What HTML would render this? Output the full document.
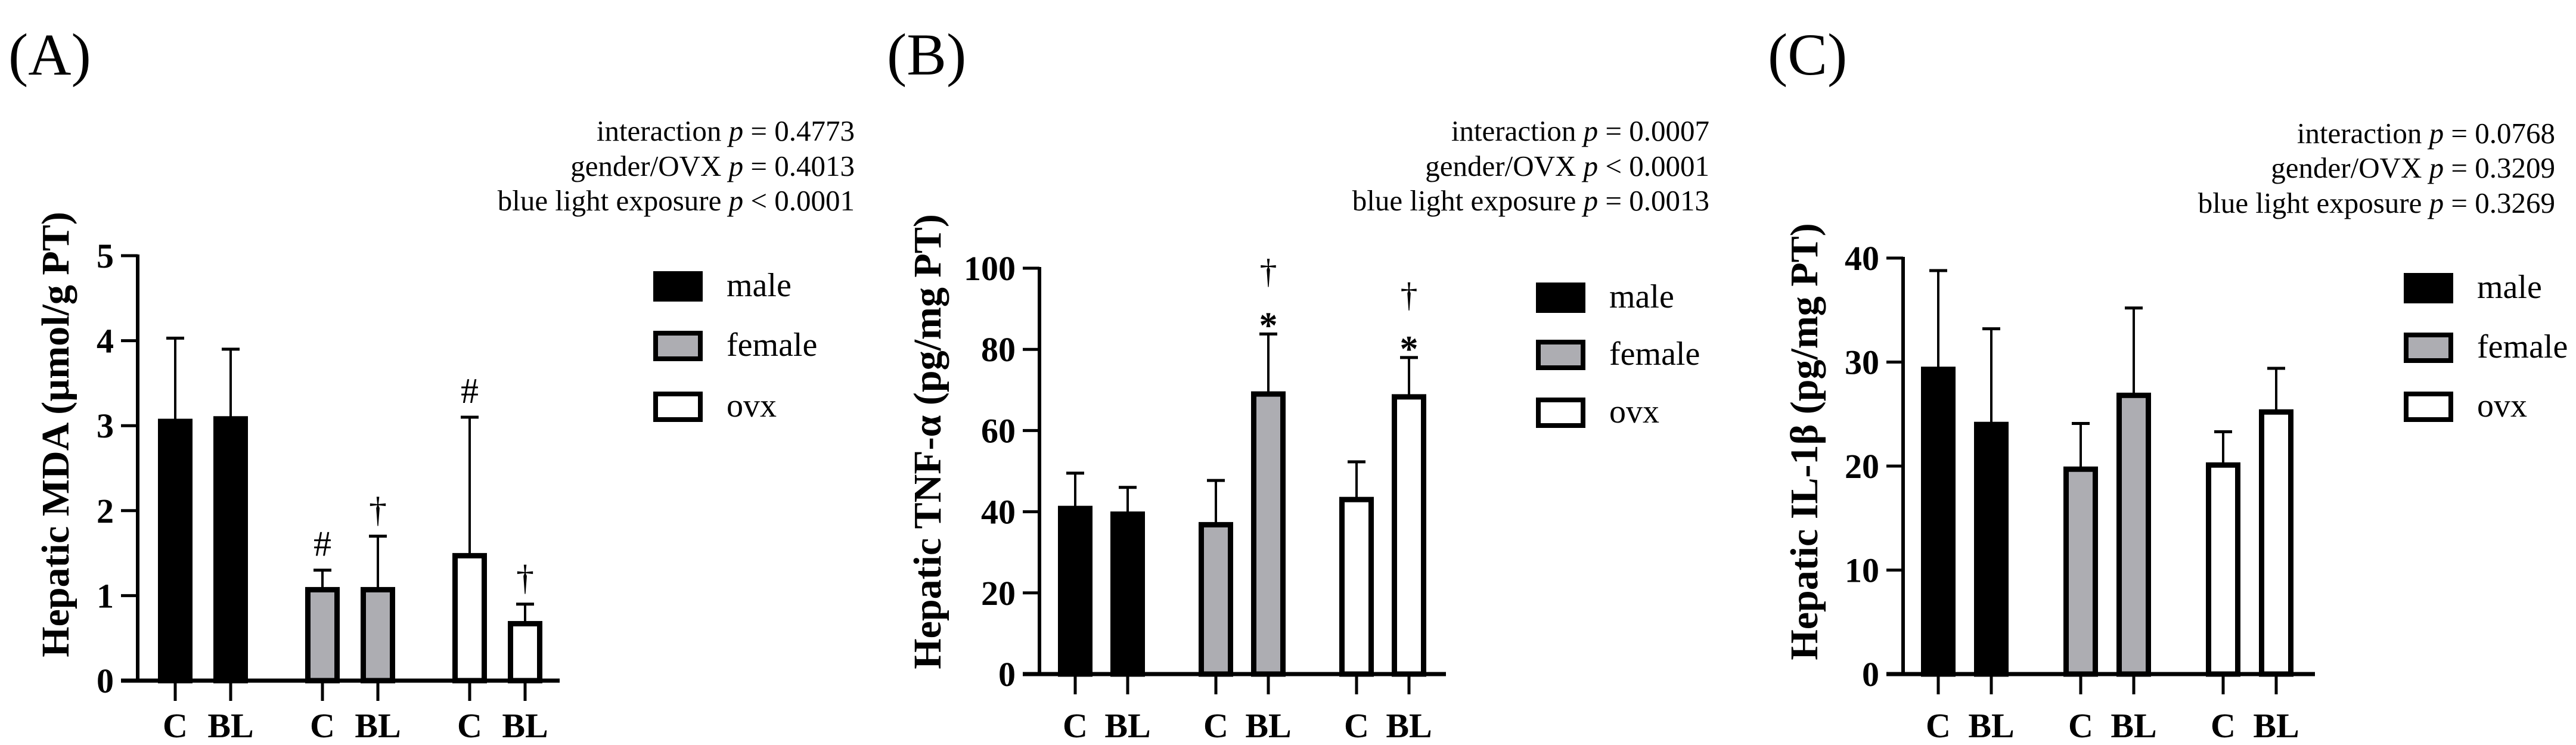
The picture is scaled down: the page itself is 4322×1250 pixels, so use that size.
<!DOCTYPE html>
<html><head><meta charset="utf-8"><style>
html,body{margin:0;padding:0;background:#fff;}
svg{display:block;font-family:"Liberation Serif",serif;}
</style></head><body>
<svg id="fig" width="4322" height="1250" viewBox="0 0 4322 1250"></svg>
<script>
const groups = ["male C","male BL","female C","female BL","ovx C","ovx BL"];
const xLabels = ["C","BL","C","BL","C","BL"];
const legendLabels = ["male","female","ovx"];
const mdaValues = [3.05,3.08,1.07,1.07,1.47,0.67];
const mdaErrors = [4.03,3.9,1.3,1.7,3.1,0.9];
const mdaTicks = [0,1,2,3,4,5];
const mdaMarks = ["","","#","†","#","†"];
const mdaP = ["interaction p = 0.4773","gender/OVX p = 0.4013","blue light exposure p < 0.0001"];
const tnfValues = [40.8,39.4,36.8,69,43,68.3];
const tnfErrors = [49.5,46,47.7,83.8,52.3,78];
const tnfTicks = [0,20,40,60,80,100];
const tnfMarks = ["","","","*†","","*†"];
const tnfP = ["interaction p = 0.0007","gender/OVX p < 0.0001","blue light exposure p = 0.0013"];
const ilValues = [29.3,24,19.7,26.8,20.1,25.2];
const ilErrors = [38.8,33.2,24.1,35.2,23.3,29.4];
const ilTicks = [0,10,20,30,40];
const ilMarks = ["","","","","",""];
const ilP = ["interaction p = 0.0768","gender/OVX p = 0.3209","blue light exposure p = 0.3269"];

const NS="http://www.w3.org/2000/svg";
const svg=document.getElementById('fig');
function mk(tag,attrs,parent,text){const e=document.createElementNS(NS,tag);for(const k in attrs)e.setAttribute(k,attrs[k]);if(text!==undefined)e.textContent=text;(parent||svg).appendChild(e);return e;}
const fills=["#000","#000","#adadb2","#adadb2","#fff","#fff"];
const legFills=["#000","#adadb2","#fff"];

function panel(cfg){
  const g=mk('g',{});
  
  
  const yMax=cfg.ticks[cfg.ticks.length-1];
  const y=v=>cfg.y0-(v/yMax)*(cfg.y0-cfg.yTop);
  const x=i=>cfg.xs[0]+ (i%2)*(cfg.xs[1]-cfg.xs[0]) + Math.floor(i/2)*(cfg.xs[2]-cfg.xs[0]);
  let t=mk('text',{x:cfg.lx,y:125,'font-size':100},g,cfg.letter);
  
  cfg.p.forEach((s,i)=>{
    const parts=s.split(' p ');
    const tt=mk('text',{x:cfg.pr,y:cfg.py[i],'text-anchor':'end','font-size':49},g);
    
    mk('tspan',{},tt,parts[0]+' ');mk('tspan',{'font-style':'italic'},tt,'p');mk('tspan',{},tt,' '+parts[1]);
  });
  // bars
  cfg.values.forEach((v,i)=>{
    const cx=x(i);
    const eb=mk('line',{x1:cx,x2:cx,y1:y(v),y2:y(cfg.errors[i]),stroke:'#000','stroke-width':4},g);
    
    mk('line',{x1:cx-15,x2:cx+15,y1:y(cfg.errors[i]),y2:y(cfg.errors[i]),stroke:'#000','stroke-width':5},g);
    const r=mk('rect',{x:cx-24.5,y:y(v),width:49,height:cfg.y0-y(v),fill:fills[i],stroke:'#000','stroke-width':9},g);
    
    
    const m=cfg.marks[i];
    if(m==='#'||m==='†'){const a=mk('text',{x:cx,y:y(cfg.errors[i])-24,'text-anchor':'middle','font-size':60},g,m);}
    if(m==='*†'){
      const a=mk('text',{x:cx,y:y(cfg.errors[i])+6,'text-anchor':'middle','font-size':62,'font-weight':'bold'},g,'*');
      const b=mk('text',{x:cx,y:y(cfg.errors[i])-86,'text-anchor':'middle','font-size':58},g,'†');
    }
    mk('line',{x1:cx,x2:cx,y1:cfg.y0,y2:cfg.y0+34,stroke:'#000','stroke-width':5},g);
    const xl=mk('text',{x:cx,y:1237,'text-anchor':'middle','font-size':58,'font-weight':'bold'},g,xLabels[i]);
    
  });
  // axes
  const ya=mk('line',{x1:cfg.ax,x2:cfg.ax,y1:cfg.yTop-2,y2:cfg.y0,stroke:'#000','stroke-width':6},g);
  
  const xa=mk('line',{x1:cfg.ax-28,x2:cfg.xEnd,y1:cfg.y0,y2:cfg.y0,stroke:'#000','stroke-width':7},g);
  
  cfg.ticks.forEach(tv=>{
    mk('line',{x1:cfg.ax-28,x2:cfg.ax,y1:y(tv),y2:y(tv),stroke:'#000','stroke-width':5},g);
    const tl=mk('text',{x:cfg.ax-40,y:y(tv)+20,'text-anchor':'end','font-size':58,'font-weight':'bold'},g,String(tv));
    
  });
  const yt=mk('text',{x:0,y:0,'text-anchor':'middle','font-size':66,'font-weight':'bold',transform:`translate(${cfg.tx+22},${cfg.ty}) rotate(-90)`},g,cfg.title);
  
  legendLabels.forEach((s,i)=>{
    const ly=cfg.legY[i];
    const lr=mk('rect',{x:cfg.legX+4,y:ly+4,width:75,height:43,fill:legFills[i],stroke:'#000','stroke-width':8},g);
    
    const lt=mk('text',{x:cfg.legX+123,y:ly+42,'font-size':56},g,s);
    
  });
}
panel({name:'panel-a-mda',letter:'(A)',lx:14,values:mdaValues,errors:mdaErrors,ticks:mdaTicks,marks:mdaMarks,p:mdaP,
  y0:1142,yTop:429,ax:231,xEnd:939,xs:[294,387,541],pr:1434,py:[236,295,353],
  title:'Hepatic MDA (µmol/g PT)',tx:93,ty:729,legX:1096,legY:[455,555,657]});
panel({name:'panel-b-tnf',letter:'(B)',lx:1488,values:tnfValues,errors:tnfErrors,ticks:tnfTicks,marks:tnfMarks,p:tnfP,
  y0:1131,yTop:450,ax:1744,xEnd:2426,xs:[1804,1892,2040],pr:2868,py:[236,295,353],
  title:'Hepatic TNF-α (pg/mg PT)',tx:1556,ty:741,legX:2577,legY:[474,570,667]});
panel({name:'panel-c-il1b',letter:'(C)',lx:2966,values:ilValues,errors:ilErrors,ticks:ilTicks,marks:ilMarks,p:ilP,
  y0:1131,yTop:433,ax:3193,xEnd:3884,xs:[3252,3341,3491],pr:4287,py:[240,298,357],
  title:'Hepatic IL-1β (pg/mg PT)',tx:3027,ty:741,legX:4033,legY:[458,558,657]});
</script>
</body></html>
